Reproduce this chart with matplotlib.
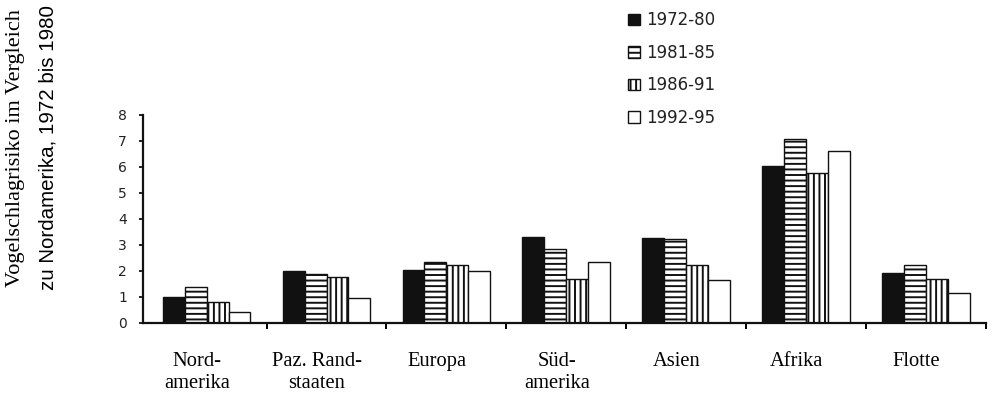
import numpy as np
import matplotlib
matplotlib.use("Agg")
import matplotlib.pyplot as plt

plt.rcParams['hatch.linewidth'] = 1.4

regions = ['Nord-\namerika', 'Paz. Rand-\nstaaten', 'Europa', 'Süd-\namerika',
           'Asien', 'Afrika', 'Flotte']
periods = ['1972-80', '1981-85', '1986-91', '1992-95']
r_7280 = [1.0, 2.0, 2.03, 3.3, 3.28, 6.05, 1.93]
r_8185 = [1.4, 1.88, 2.33, 2.85, 3.22, 7.08, 2.23]
r_8691 = [0.8, 1.78, 2.23, 1.68, 2.23, 5.77, 1.68]
r_9295 = [0.42, 0.98, 2.0, 2.36, 1.65, 6.63, 1.17]
yticks = [0, 1, 2, 3, 4, 5, 6, 7, 8]

fig = plt.figure(figsize=(9.92, 3.95), dpi=100)
ax = fig.add_axes([0.1442, 0.1823, 0.8498, 0.5266])

x = np.arange(len(regions))
w = 0.183
styles = [
    dict(color='#111111', edgecolor='#111111'),
    dict(color='white', edgecolor='#111111', hatch='---'),
    dict(color='white', edgecolor='#111111', hatch='|||'),
    dict(color='white', edgecolor='#111111'),
]
series = [r_7280, r_8185, r_8691, r_9295]
handles = []
for i, (vals, st) in enumerate(zip(series, styles)):
    b = ax.bar(x + (i - 1.5) * w, vals, w, linewidth=1.0, label=periods[i], **st)
    handles.append(b)

ax.set_xlim(-0.53, 6.5)
ax.set_ylim(0, 8)
for s in ['top', 'right']:
    ax.spines[s].set_visible(False)
for s in ['left', 'bottom']:
    ax.spines[s].set_linewidth(1.6)
    ax.spines[s].set_color('#111111')

ax.set_yticks(yticks)
ax.tick_params(axis='y', length=3, width=1.4, pad=8.5, labelsize=10, colors='#222222')
ax.set_xticks(x - 0.08)
ax.set_xticklabels(regions, fontsize=14.8, family='Liberation Serif', linespacing=1.2)
ax.tick_params(axis='x', which='major', length=0, pad=21)
ax.set_xticks(np.arange(0.5, 7, 1), minor=True)
ax.tick_params(axis='x', which='minor', length=4, width=1.4, direction='out')

fig.legend(handles=handles, labels=periods, loc='upper left',
           bbox_to_anchor=(0.633, 0.971), frameon=False, fontsize=12,
           handlelength=0.7, handleheight=0.7, handletextpad=0.4,
           labelspacing=0.87, borderpad=0, borderaxespad=0,
           labelcolor='#222222')

fig.text(0.016, 0.624, 'Vogelschlagrisiko im Vergleich', rotation=90,
         ha='center', va='center', fontsize=16, family='Liberation Serif')
fig.text(0.048, 0.627, 'zu Nordamerika, 1972 bis 1980', rotation=90,
         ha='center', va='center', fontsize=14.8, family='Liberation Sans')

fig.savefig('out.png', dpi=100)
